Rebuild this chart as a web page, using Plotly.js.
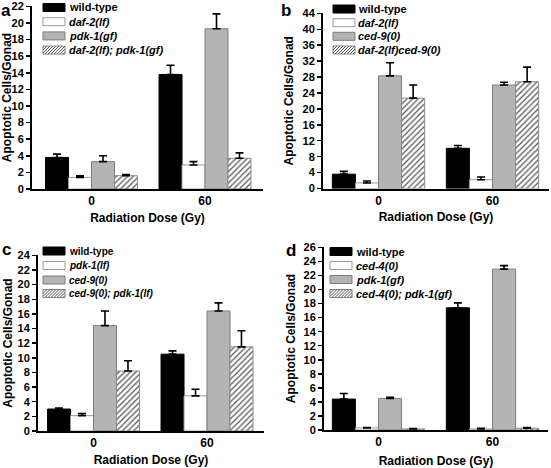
<!DOCTYPE html>
<html><head><meta charset="utf-8">
<script src="https://cdn.plot.ly/plotly-3.0.1.min.js"></script>
<style>html,body{margin:0;padding:0;background:#fff;} #chart{width:551px;height:468px;}</style>
</head><body><div id="chart"></div>
<script>
// ---------------- data ----------------
const doses = ['0', '60'];

const namesA = ['wild-type', 'daf-2(lf)', 'pdk-1(gf)', 'daf-2(lf); pdk-1(gf)'];
const meansA = [[3.8, 13.8], [1.4, 2.9], [3.3, 19.3], [1.6, 3.7]];
const errA   = [[0.4, 1.1], [0.2, 0.4], [0.7, 1.8], [0.15, 0.65]];

const namesB = ['wild-type', 'daf-2(lf)', 'ced-9(0)', 'daf-2(lf)ced-9(0)'];
const meansB = [[3.6, 10.1], [1.4, 2.2], [28.3, 26.0], [22.7, 26.8]];
const errB   = [[0.7, 0.7], [0.5, 0.7], [3.3, 0.7], [3.3, 3.7]];

const namesC = ['wild-type', 'pdk-1(lf)', 'ced-9(0)', 'ced-9(0); pdk-1(lf)'];
const meansC = [[3.0, 10.5], [2.1, 4.8], [14.4, 16.4], [8.2, 11.5]];
const errC   = [[0.15, 0.45], [0.3, 0.9], [2.0, 1.1], [1.4, 2.2]];

const namesD = ['wild-type', 'ced-4(0)', 'pdk-1(gf)', 'ced-4(0); pdk-1(gf)'];
const meansD = [[4.4, 17.4], [0.3, 0.15], [4.5, 22.9], [0.15, 0.25]];
const errD   = [[0.8, 0.7], [0.05, 0.1], [0.15, 0.5], [0.05, 0.1]];

const yTitle = 'Apoptotic Cells/Gonad';
const xTitle = 'Radiation Dose (Gy)';

// ---------------- styles / geometry ----------------
const W = 551, H = 468;
const FONT = 'Liberation Sans, Arial, Helvetica, sans-serif';
const fills = ['#000000', '#ffffff', '#b4b4b4', '#ffffff'];
const edges = ['#000000', '#9a9a9a', '#7c7c7c', '#8a8a8a'];

const panels = [
  {names: namesA, means: meansA, errs: errA, letter: 'a', L: 32, R: 263, T: 6, B: 189, c0: 91.5, c1: 205, ymax: 22, dtick: 2,
   lx: 6, ly: 10, legX: 43, legTx: 67, legY: [7.5, 21.7, 35.9, 50.1], legFont: 11, ystand: 0, xstand: 6},
  {names: namesB, means: meansB, errs: errB, letter: 'b', L: 323, R: 549, T: 13, B: 188.5, c0: 378.5, c1: 492.5, ymax: 44, dtick: 4,
   lx: 286, ly: 10, legX: 333, legTx: 356, legY: [9, 22.7, 36.3, 50], legFont: 11, ystand: 6, xstand: 6},
  {names: namesC, means: meansC, errs: errC, letter: 'c', L: 38, R: 264, T: 255, B: 431, c0: 93.5, c1: 207, ymax: 24, dtick: 2,
   lx: 6, ly: 249, legX: 43, legTx: 67, legY: [251, 265.5, 280, 293.5], legFont: 10, ystand: 2, xstand: 6},
  {names: namesD, means: meansD, errs: errD, letter: 'd', L: 324, R: 548, T: 247, B: 430, c0: 378.5, c1: 492.5, ymax: 26, dtick: 2,
   lx: 291, ly: 250, legX: 330, legTx: 354, legY: [251.5, 265.5, 279.5, 293.5], legFont: 11, ystand: 5, xstand: 8}
];

const px = v => v / W;
const py = v => 1 - v / H;

const traces = [];
const layout = {
  width: W, height: H,
  margin: {l: 0, r: 0, t: 0, b: 0},
  paper_bgcolor: '#ffffff', plot_bgcolor: '#ffffff',
  showlegend: false,
  barmode: 'group', bargap: 0.19, bargroupgap: 0,
  font: {family: FONT, color: '#000'},
  shapes: [], annotations: []
};

function hatchPath(w, h, step) {
  let d = '';
  for (let s = -h + 1; s < w; s += step) {
    const t0 = Math.max(0, -s), t1 = Math.min(h, w - s);
    if (t1 <= t0) continue;
    d += `M${(s + t0).toFixed(2)},${(-h / 2 + t0).toFixed(2)}L${(s + t1).toFixed(2)},${(-h / 2 + t1).toFixed(2)}`;
  }
  return d;
}

panels.forEach((p, i) => {
  const sfx = i === 0 ? '' : String(i + 1);
  const xa = 'x' + sfx, ya = 'y' + sfx;
  const u = p.c1 - p.c0;
  p.names.forEach((nm, k) => {
    const marker = {color: fills[k], line: {color: edges[k], width: 1}};
    if (k === 3) marker.pattern = {shape: '/', fgcolor: '#555555', bgcolor: '#ffffff', size: 4, solidity: 0.3};
    traces.push({
      type: 'bar', name: nm, x: doses, y: p.means[k], xaxis: xa, yaxis: ya,
      marker: marker,
      error_y: {type: 'data', symmetric: false, array: p.errs[k], arrayminus: p.errs[k].map(() => 0),
                color: '#000000', thickness: 1.6, width: 4},
      hoverinfo: 'skip'
    });
  });
  layout['xaxis' + sfx] = {
    domain: [px(p.L), px(p.R)], anchor: ya, type: 'category',
    range: [(p.L - p.c0) / u, (p.R - p.c0) / u],
    showline: true, linecolor: '#000', linewidth: 2, ticks: '', showgrid: false, zeroline: false,
    tickfont: {family: FONT, size: 12, weight: 'bold', color: '#000'},
    title: {text: xTitle, font: {family: FONT, size: 12, weight: 'bold', color: '#000'}, standoff: p.xstand},
    fixedrange: true
  };
  layout['yaxis' + sfx] = {
    domain: [py(p.B), py(p.T)], anchor: xa, range: [0, p.ymax * 1.002], dtick: p.dtick, tick0: 0,
    showline: true, linecolor: '#000', linewidth: 2, ticks: 'outside', ticklen: 4, tickwidth: 1.5, tickcolor: '#000',
    showgrid: false, zeroline: false,
    tickfont: {family: FONT, size: 11, weight: 'bold', color: '#000'},
    title: {text: yTitle, font: {family: FONT, size: 12, weight: 'bold', color: '#000'}, standoff: p.ystand},
    fixedrange: true
  };
  // panel letter
  layout.annotations.push({xref: 'paper', yref: 'paper', x: px(p.lx), y: py(p.ly), xanchor: 'center', yanchor: 'middle',
    text: '<b>' + p.letter + '</b>', showarrow: false, font: {family: FONT, size: 17, color: '#000'}});
  // legend
  p.names.forEach((nm, k) => {
    const base = {xref: 'paper', yref: 'paper', xsizemode: 'pixel', ysizemode: 'pixel',
                  xanchor: px(p.legX), yanchor: py(p.legY[k])};
    layout.shapes.push(Object.assign({}, base, {type: 'rect', x0: 0, x1: 22, y0: -4, y1: 4,
      fillcolor: fills[k], line: {color: edges[k], width: 1}}));
    if (k === 3) {
      layout.shapes.push(Object.assign({}, base, {type: 'path', path: hatchPath(22, 8, 3),
        line: {color: '#555555', width: 1}}));
    }
    const txt = k === 0 ? '<b>' + nm + '</b>' : '<b><i>' + nm + '</i></b>';
    layout.annotations.push({xref: 'paper', yref: 'paper', x: px(p.legTx), y: py(p.legY[k]), xanchor: 'left', yanchor: 'middle',
      text: txt, showarrow: false, font: {family: FONT, size: p.legFont, color: '#000'}});
  });
});

Plotly.newPlot('chart', traces, layout, {staticPlot: true, displayModeBar: false});
</script>
</body></html>
